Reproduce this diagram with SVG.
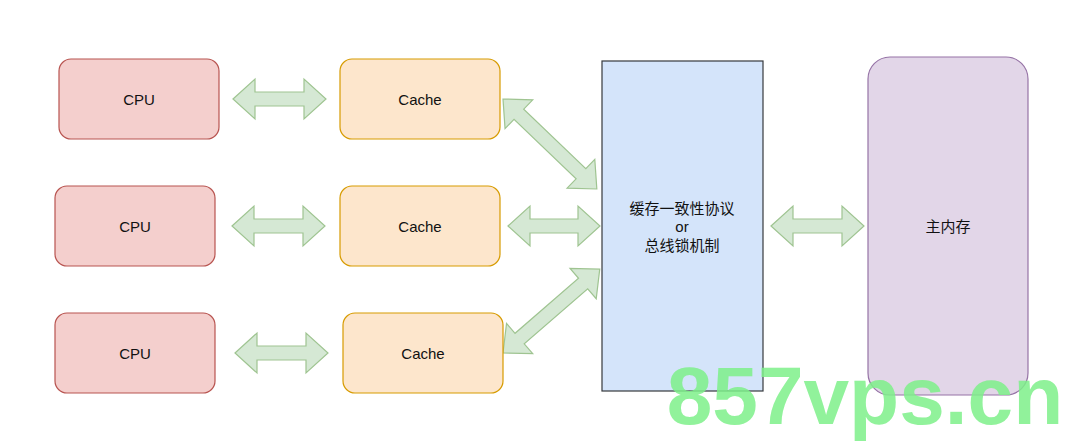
<svg xmlns="http://www.w3.org/2000/svg" width="1080" height="442" viewBox="0 0 1080 442">
<style>
.cpu{fill:#f4cfcd;stroke:#b85450;stroke-width:1.2}
.cache{fill:#fde6cc;stroke:#d79b00;stroke-width:1.2}
.bus{fill:#d4e4fa;stroke:#36393d;stroke-width:1.2}
.mem{fill:#e2d6e8;stroke:#9673a6;stroke-width:1.2}
.arr{fill:#d5e8d4;stroke:#9fc491;stroke-width:1.2}
text{font-family:"Liberation Sans","Noto Sans CJK SC",sans-serif;font-size:15px;fill:#111;text-anchor:middle}
</style>
<rect width="1080" height="442" fill="#fff"/>
<g id="connectors">
<polygon class="arr" transform="translate(233,99)" points="0,0 22,-20 22,-7 71,-7 71,-20 93,0 71,20 71,7 22,7 22,20"/>
<polygon class="arr" transform="translate(232,226)" points="0,0 22,-20 22,-7 71,-7 71,-20 93,0 71,20 71,7 22,7 22,20"/>
<polygon class="arr" transform="translate(235,353)" points="0,0 22,-20 22,-7 71,-7 71,-20 93,0 71,20 71,7 22,7 22,20"/>
<polygon class="arr" transform="translate(508,226)" points="0,0 22,-20 22,-7 70,-7 70,-20 92,0 70,20 70,7 22,7 22,20"/>
<polygon class="arr" transform="translate(771,226)" points="0,0 22,-20 22,-7 71,-7 71,-20 93,0 71,20 71,7 22,7 22,20"/>
<polygon class="arr" transform="translate(503,99) rotate(43.8)" points="0,0 22,-20 22,-7 108,-7 108,-20 130,0 108,20 108,7 22,7 22,20"/>
<polygon class="arr" transform="translate(503,353) rotate(-40.9)" points="0,0 22,-20 22,-7 106,-7 106,-20 128,0 106,20 106,7 22,7 22,20"/>
</g>
<g id="cpu1"><rect class="cpu" x="59" y="59" width="160" height="80" rx="12"/><text x="139" y="105">CPU</text></g>
<g id="cpu2"><rect class="cpu" x="55" y="186" width="160" height="80" rx="12"/><text x="135" y="232">CPU</text></g>
<g id="cpu3"><rect class="cpu" x="55" y="313" width="160" height="80" rx="12"/><text x="135" y="359">CPU</text></g>
<g id="cache1"><rect class="cache" x="340" y="59" width="160" height="80" rx="12"/><text x="420" y="105">Cache</text></g>
<g id="cache2"><rect class="cache" x="340" y="186" width="160" height="80" rx="12"/><text x="420" y="232">Cache</text></g>
<g id="cache3"><rect class="cache" x="343" y="313" width="160" height="80" rx="12"/><text x="423" y="359">Cache</text></g>
<g id="bus"><rect class="bus" x="602" y="61" width="161" height="330"/>
<text x="682" y="214">缓存一致性协议</text><text x="682" y="232">or</text><text x="682" y="251">总线锁机制</text></g>
<g id="mem"><rect class="mem" x="868" y="57" width="160" height="338" rx="22"/><text x="948" y="232">主内存</text></g>
<text x="865" y="424" style="font-size:82px;font-weight:bold;fill:#7ef08a;opacity:0.85">857vps.cn</text>
</svg>
